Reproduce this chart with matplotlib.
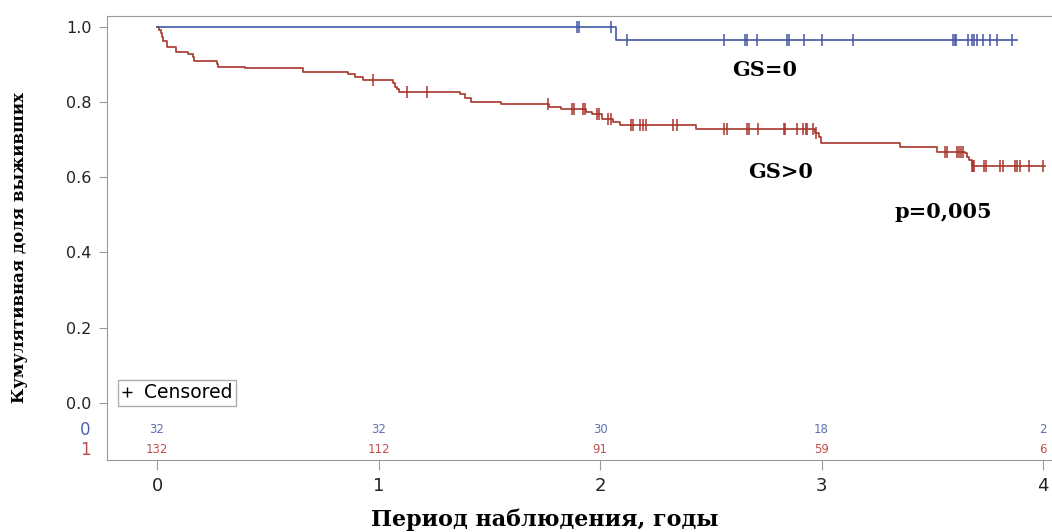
import numpy as np
import matplotlib
matplotlib.use("Agg")
import matplotlib.pyplot as plt
from matplotlib.lines import Line2D

# Kaplan-Meier step points
red_times = [0, 0.010, 0.017, 0.021, 0.029, 0.044, 0.084, 0.141, 0.164, 0.168,
             0.270, 0.274, 0.397, 0.658, 0.864, 0.894, 0.929, 1.067, 1.074, 1.085,
             1.094, 1.368, 1.390, 1.416, 1.553, 1.771, 1.824, 1.935, 1.962, 2.008,
             2.057, 2.090, 2.433, 2.971, 2.986, 2.996, 3.354, 3.520, 3.648, 3.655,
             3.667, 3.678]
red_surv = [1.0, 0.992, 0.983, 0.974, 0.963, 0.946, 0.932, 0.927, 0.921, 0.910,
            0.901, 0.894, 0.890, 0.881, 0.874, 0.867, 0.859, 0.850, 0.841, 0.835,
            0.828, 0.821, 0.812, 0.801, 0.796, 0.788, 0.781, 0.773, 0.768, 0.755,
            0.747, 0.738, 0.728, 0.719, 0.708, 0.692, 0.680, 0.668, 0.664, 0.655,
            0.645, 0.630]
red_end = 4.01
red_censored = [0.977, 1.127, 1.220, 1.767, 1.872, 1.883, 1.925, 1.931, 1.985, 1.995,
                2.038, 2.048, 2.139, 2.148, 2.180, 2.193, 2.208, 2.331, 2.349, 2.560,
                2.572, 2.662, 2.673, 2.715, 2.830, 2.835, 2.888, 2.918, 2.930, 2.936,
                2.963, 2.975, 3.555, 3.565, 3.610, 3.620, 3.630, 3.640, 3.680, 3.685,
                3.690, 3.731, 3.743, 3.806, 3.818, 3.874, 3.884, 3.896, 3.934, 4.000]

blue_times = [0, 2.07]
blue_surv = [1.0, 0.964]
blue_end = 3.88
blue_censored = [1.895, 1.905, 2.050, 2.120, 2.560, 2.655, 2.665, 2.710, 2.845, 2.855,
                 2.920, 3.000, 3.140, 3.595, 3.600, 3.605, 3.660, 3.680, 3.690, 3.700,
                 3.730, 3.760, 3.790, 3.860]

risk_times = [0, 1, 2, 3, 4]
risk_gs0 = [32, 32, 30, 18, 2]
risk_gs1 = [132, 112, 91, 59, 6]

BLUE = "#4358a3"
RED = "#a8362c"
GREY = "#9a9a9a"


def step_value(times, surv, t):
    idx = np.searchsorted(times, t, side="right") - 1
    return np.asarray(surv)[idx]


fig = plt.figure(figsize=(10.52, 5.32), dpi=100)
ax = fig.add_axes([107 / 1052, 1 - 460 / 532, 945 / 1052, 444 / 532])

for times, surv, end, cens, col in [
    (red_times, red_surv, red_end, red_censored, RED),
    (blue_times, blue_surv, blue_end, blue_censored, BLUE),
]:
    xs = list(times) + [end]
    ys = list(surv) + [surv[-1]]
    ax.step(xs, ys, where="post", color=col, lw=1.2)
    ax.plot(cens, step_value(times, surv, cens), ls="none", marker="|",
            ms=9, mew=1.1, color=col)

# at-risk table inside the plot
for t, n0, n1 in zip(risk_times, risk_gs0, risk_gs1):
    ax.text(t, -0.072, str(n0), color="#6070b0", fontsize=8.5, ha="center", va="center")
    ax.text(t, -0.125, str(n1), color="#c0504d", fontsize=8.5, ha="center", va="center")
ax.text(-0.325, -0.072, "0", color="#5060a8", fontsize=12, ha="center", va="center", clip_on=False)
ax.text(-0.325, -0.125, "1", color="#c0504d", fontsize=12, ha="center", va="center", clip_on=False)

ser = dict(family="DejaVu Serif", fontweight="bold")
ax.text(2.745, 0.886, "GS=0", ha="center", va="center", fontsize=15, **ser)
ax.text(2.813, 0.614, "GS>0", ha="center", va="center", fontsize=15, **ser)
ax.text(3.549, 0.508, "p=0,005", ha="center", va="center", fontsize=15, **ser)

ax.set_xlim(-0.2257, 4.04)
ax.set_ylim(-0.152, 1.029)
ax.set_xticks(risk_times)
ax.set_yticks([0, 0.2, 0.4, 0.6, 0.8, 1.0])
ax.set_yticklabels(["0.0", "0.2", "0.4", "0.6", "0.8", "1.0"])
ax.tick_params(axis="y", length=6, pad=5, color=GREY, labelsize=11.5, labelcolor="#222222")
ax.tick_params(axis="x", length=7, pad=5, color=GREY, labelsize=13, labelcolor="#222222")
for side in ["left", "top", "bottom"]:
    ax.spines[side].set_color(GREY)
ax.spines["right"].set_visible(False)

leg = ax.legend(handles=[Line2D([], [], marker="+", ls="none", color="black", ms=7, mew=1.0)],
                labels=["Censored"], loc="lower left", bbox_to_anchor=(0.0116, 0.1216),
                fancybox=False, edgecolor=GREY, fontsize=13.5, handlelength=0.6,
                handletextpad=0.6, borderpad=0.2, borderaxespad=0)
leg.get_frame().set_linewidth(1.0)

fig.text(20 / 1052, 1 - 248 / 532, "Кумулятивная доля выживших", rotation=90,
         ha="center", va="center", fontsize=12, **ser)
fig.text(545 / 1052, 1 - 531 / 532, "Период наблюдения, годы", ha="center", va="bottom",
         fontsize=16, **ser)

fig.savefig("out.png", dpi=100)
